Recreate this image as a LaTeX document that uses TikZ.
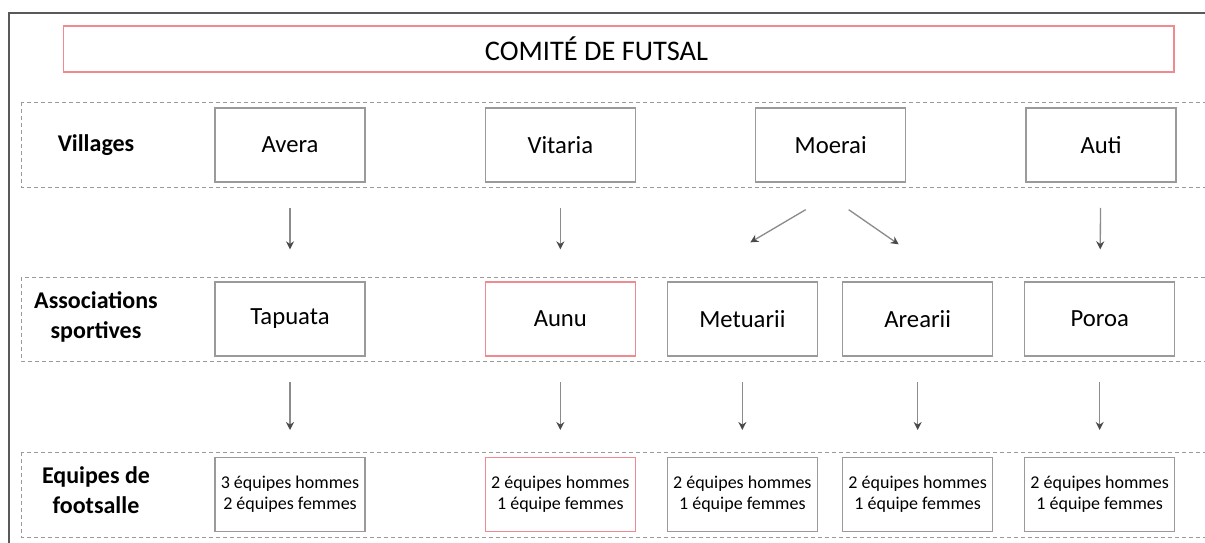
\documentclass[tikz,border=0pt]{standalone}
\usepackage{fontspec}
\setmainfont{Carlito}
\usepackage{xcolor}
\usetikzlibrary{positioning,arrows.meta}
\definecolor{boxgray}{HTML}{9A9A9A}
\definecolor{boxred}{HTML}{EE8A90}
\definecolor{arrowgray}{HTML}{4A4A4A}
\definecolor{linegray}{HTML}{8C8C8C}
\definecolor{framegray}{HTML}{595959}

\begin{document}
\begin{tikzpicture}[x=0.75pt, y=-0.75pt, node distance=89.25pt,
    block/.style={rectangle, draw=boxgray, line width=1pt, minimum width=112.5pt, minimum height=55.5pt, inner sep=0pt, font=\fontsize{18.5}{22}\selectfont},
    team/.style={block, align=center, font=\fontsize{13.5}{16}\selectfont},
    redblock/.style={draw=boxred},
    rowband/.style={draw=boxgray, line width=0.75pt, dash pattern=on 3pt off 2.25pt},
    rowlabel/.style={align=center, font=\bfseries\fontsize{18}{22}\selectfont},
    arrow/.style={-{Stealth[length=6pt, width=6pt, color=arrowgray]}, draw=linegray, line width=1pt}]

    \useasboundingbox (0,0) rectangle (1205,542);
    \draw[framegray, line width=1.1pt] (1215,13) -- (9,13) -- (9,555);

    % title
    \node[block, redblock, minimum width=833pt, minimum height=34.5pt, font=\fontsize{21.3}{25}\selectfont] (title) at (618.5,49) {\hspace*{-33pt}COMITÉ DE FUTSAL};

    % row bands
    \draw[rowband] (21,102) rectangle (1215,187);
    \draw[rowband] (21,277) rectangle (1215,361);
    \draw[rowband] (21,452) rectangle (1215,537);

    \node[rowlabel] (lblvillages) at (96,145) {Villages};
    \node[rowlabel] (lblassoc) at (96,317) {Associations\\sportives};
    \node[rowlabel] (lblteams) at (96,490) {Equipes de\\footsalle};

    % villages
    \node[block] (avera) at (290,145) {Avera};
    \node[block, right=of avera] (vitaria) {Vitaria};
    \node[block, right=of vitaria] (moerai) {Moerai};
    \node[block, right=of moerai] (auti) {Auti};

    % associations
    \node[block] (tapuata) at (290,319) {Tapuata};
    \node[block, redblock, right=of tapuata] (aunu) {Aunu};
    \node[block, right=23pt of aunu] (metuarii) {Metuarii};
    \node[block, right=18pt of metuarii] (arearii) {Arearii};
    \node[block, right=23pt of arearii] (poroa) {Poroa};

    % teams
    \node[team, below=75pt of tapuata] (tmtapuata) {3 équipes hommes\\2 équipes femmes};
    \node[team, redblock, below=75pt of aunu] (tmaunu) {2 équipes hommes\\1 équipe femmes};
    \node[team, below=75pt of metuarii] (tmmetuarii) {2 équipes hommes\\1 équipe femmes};
    \node[team, below=75pt of arearii] (tmarearii) {2 équipes hommes\\1 équipe femmes};
    \node[team, below=75pt of poroa] (tmporoa) {2 équipes hommes\\1 équipe femmes};

    \draw[arrow, shorten <=19pt, shorten >=24pt] (avera) -- (tapuata);
    \draw[arrow, shorten <=19pt, shorten >=24pt] (vitaria) -- (aunu);
    \draw[arrow, shorten <=19pt, shorten >=24pt] (auti) -- (poroa);
    \draw[arrow] ([shift={(-25,27)}]moerai.south) -- ([shift={(8,-39)}]metuarii.north);
    \draw[arrow] ([shift={(18,27)}]moerai.south) -- ([shift={(-19,-37)}]arearii.north);

    \draw[arrow, shorten <=19pt, shorten >=20pt] (tapuata) -- (tmtapuata);
    \draw[arrow, shorten <=19pt, shorten >=20pt] (aunu) -- (tmaunu);
    \draw[arrow, shorten <=19pt, shorten >=20pt] (metuarii) -- (tmmetuarii);
    \draw[arrow, shorten <=19pt, shorten >=20pt] (arearii) -- (tmarearii);
    \draw[arrow, shorten <=19pt, shorten >=20pt] (poroa) -- (tmporoa);
\end{tikzpicture}
\end{document}
